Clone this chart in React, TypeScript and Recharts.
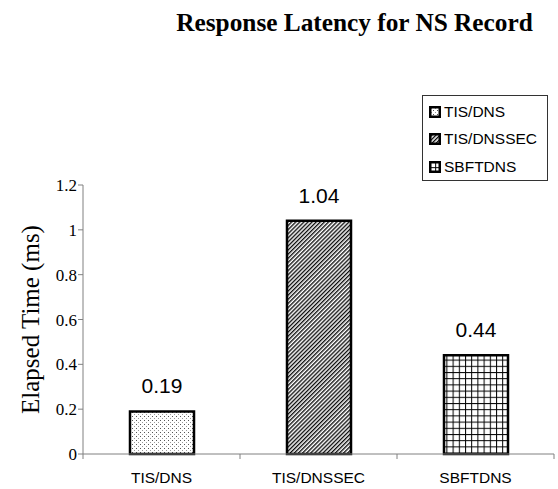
import { BarChart, Bar, XAxis, YAxis, Legend, LabelList, Label, Cell } from 'recharts';

const categories = ['TIS/DNS', 'TIS/DNSSEC', 'SBFTDNS'];
const latencyMs = [0.19, 1.04, 0.44];
const yTicks = [0, 0.2, 0.4, 0.6, 0.8, 1, 1.2];

const chartData = categories.map((name, i) => ({ name, latency: latencyMs[i] }));
const patternIds = ['pat-dots', 'pat-diag', 'pat-grid'];

const SERIF = '"Liberation Serif", "Times New Roman", serif';
const SANS = '"Liberation Sans", Arial, sans-serif';

// category labels, with the small tick marks sitting on the category boundaries
function CategoryTick(props: any) {
    const { x, y, payload, index, visibleTicksCount, width } = props;
    const half = payload.offset || width / visibleTicksCount / 2;
    const axisY = y - 18;
    return (
        <g>
            <line x1={x - half} x2={x - half} y1={axisY} y2={axisY + 5} stroke="#808080" />
            {index === visibleTicksCount - 1 && (
                <line x1={x + half} x2={x + half} y1={axisY} y2={axisY + 5} stroke="#808080" />
            )}
            <text x={x} y={y} dy="0.71em" textAnchor="middle" fontFamily={SANS} fontSize={15.5} fill="#000">
                {payload.value}
            </text>
        </g>
    );
}

function LegendBox() {
    return (
        <div style={{ border: '1px solid #333', width: 124, height: 82, background: '#fff', paddingTop: 2, boxSizing: 'content-box' }}>
            {categories.map((c, i) => (
                <div key={c} style={{ display: 'flex', alignItems: 'center', height: 27.5, paddingLeft: 6 }}>
                    <svg width={12} height={12} style={{ display: 'block' }}>
                        <rect x={1.25} y={1.25} width={9.5} height={9.5} fill={`url(#${patternIds[i]})`} stroke="#000" strokeWidth={2.5} />
                    </svg>
                    <span style={{ marginLeft: 3, fontFamily: SANS, fontSize: 15.5, color: '#000' }}>{c}</span>
                </div>
            ))}
        </div>
    );
}

export default function App() {
    return (
        <div style={{ position: 'absolute', left: 0, top: 0, width: 558, height: 489, background: '#fff' }}>
            <div
                style={{
                    position: 'absolute',
                    left: 150,
                    width: 409,
                    top: 10,
                    textAlign: 'center',
                    fontFamily: SERIF,
                    fontWeight: 'bold',
                    fontSize: 25.3,
                    lineHeight: '25px',
                    color: '#000',
                    whiteSpace: 'nowrap'
                }}
            >
                Response Latency for NS Record
            </div>
            <BarChart width={558} height={489} data={chartData} margin={{ top: 185, right: 4, left: 0, bottom: 0 }}>
                <defs>
                    <pattern id="pat-dots" width={4} height={4} patternUnits="userSpaceOnUse">
                        <rect width={4} height={4} fill="#fff" />
                        <rect x={0} y={0} width={1} height={1} fill="#555" />
                        <rect x={2} y={2} width={1} height={1} fill="#999" />
                    </pattern>
                    <pattern id="pat-diag" width={2.9} height={2.9} patternUnits="userSpaceOnUse" patternTransform="rotate(45)">
                        <rect width={2.9} height={2.9} fill="#fff" />
                        <line x1={0.7} y1={0} x2={0.7} y2={2.9} stroke="#000" strokeWidth={1.3} />
                    </pattern>
                    <pattern id="pat-grid" width={6.2} height={6.2} patternUnits="userSpaceOnUse">
                        <rect width={6.2} height={6.2} fill="#fff" />
                        <line x1={0.5} y1={0} x2={0.5} y2={6.2} stroke="#000" strokeWidth={1} />
                        <line x1={0} y1={0.5} x2={6.2} y2={0.5} stroke="#000" strokeWidth={1} />
                    </pattern>
                </defs>
                <XAxis
                    dataKey="name"
                    height={35}
                    axisLine={{ stroke: '#808080' }}
                    tickLine={false}
                    tickSize={5}
                    tickMargin={13}
                    interval={0}
                    tick={<CategoryTick />}
                />
                <YAxis
                    width={83}
                    domain={[0, 1.2]}
                    ticks={yTicks}
                    interval={0}
                    axisLine={{ stroke: '#808080' }}
                    tickLine={{ stroke: '#808080' }}
                    tickSize={5}
                    tickMargin={1}
                    tick={{ fontFamily: SERIF, fontSize: 17, fill: '#000' }}
                >
                    <Label
                        value="Elapsed Time (ms)"
                        angle={-90}
                        position="insideLeft"
                        offset={30}
                        style={{ textAnchor: 'middle', fontFamily: SERIF, fontSize: 25, fill: '#000' }}
                    />
                </YAxis>
                <Legend
                    layout="vertical"
                    align="center"
                    verticalAlign="middle"
                    content={() => <LegendBox />}
                    wrapperStyle={{ position: 'absolute', left: 422, top: 95, width: 126, height: 86 }}
                />
                <Bar dataKey="latency" barSize={64} stroke="#000" strokeWidth={2.5} isAnimationActive={false}>
                    {chartData.map((entry, i) => (
                        <Cell key={`cell-${entry.name}`} fill={`url(#${patternIds[i]})`} />
                    ))}
                    <LabelList dataKey="latency" position="top" offset={18} fontFamily={SANS} fontSize={21} fill="#000" />
                </Bar>
            </BarChart>
        </div>
    );
}
